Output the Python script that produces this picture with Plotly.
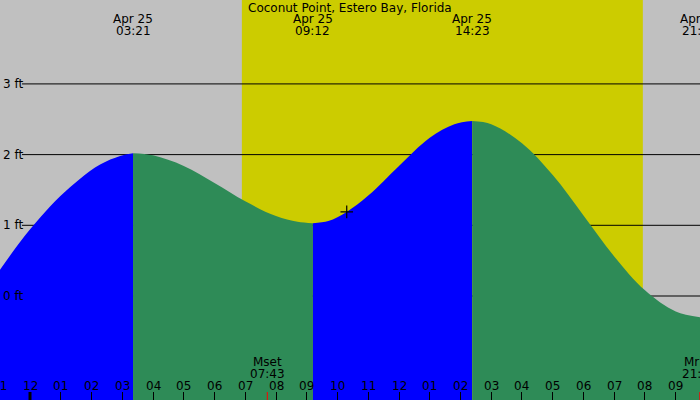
import plotly.graph_objects as go

# ---------------- data (hours after midnight Apr 25, feet) ----------------
rise1_t = [-0.976, -0.33, 0.33, 0.98, 1.63, 2.28, 2.93, 3.35]
rise1_v = [0.37, 0.76, 1.11, 1.41, 1.66, 1.86, 1.98, 2.02]
fall1_t = [3.35, 4.0, 5.0, 6.0, 7.0, 8.0, 8.7, 9.2]
fall1_v = [2.02, 1.99, 1.84, 1.60, 1.34, 1.13, 1.05, 1.03]
rise2_t = [9.2, 9.7, 10.3, 11.0, 12.0, 13.0, 13.8, 14.383]
rise2_v = [1.03, 1.06, 1.19, 1.42, 1.84, 2.24, 2.43, 2.475]
fall2_t = [14.383, 15.0, 16.0, 17.0, 18.0, 19.0, 20.0, 21.0, 21.79]
fall2_v = [2.475, 2.43, 2.16, 1.71, 1.14, 0.56, 0.08, -0.22, -0.30]

event_times = [3.35, 9.2, 14.383, 21.783]
event_dates = ["Apr 25", "Apr 25", "Apr 25", "Apr 25"]
event_labels = ["03:21", "09:12", "14:23", "21:47"]

sunrise, sunset = 6.89, 19.93
moon_times = [7.717, 21.783]
moon_names = ["Mset", "Mrise"]
moon_labels = ["07:43", "21:47"]

now_time, now_level = 10.3, 1.19

tick_hours = list(range(-1, 22))
tick_labels = ["11", "12", "01", "02", "03", "04", "05", "06", "07", "08", "09", "10",
               "11", "12", "01", "02", "03", "04", "05", "06", "07", "08", "09"]

grid_levels = [0, 1, 2, 3]
grid_labels = ["0 ft", "1 ft", "2 ft", "3 ft"]

title = "Coconut Point, Estero Bay, Florida"

# ---------------- layout constants ----------------
W, H = 700, 400
X_RANGE = [-0.976, 21.789]
Y_RANGE = [-1.471, 4.187]
PX_PER_H = W / (X_RANGE[1] - X_RANGE[0])
FONT = "DejaVu Sans"
FS = 12
BLUE = "#0000ff"
GREEN = "#2e8b57"
GRAY = "#c0c0c0"
YELLOW = "#cccc00"

fig = go.Figure()

segments = [(rise1_t, rise1_v, BLUE), (fall1_t, fall1_v, GREEN),
            (rise2_t, rise2_v, BLUE), (fall2_t, fall2_v, GREEN)]
for t, v, col in segments:
    fig.add_trace(go.Scatter(x=[t[0], t[-1]], y=[Y_RANGE[0], Y_RANGE[0]], mode="lines",
                             line=dict(width=0), hoverinfo="skip", showlegend=False))
    fig.add_trace(go.Scatter(x=t, y=v, mode="lines", line=dict(width=0, shape="spline", color=col),
                             fill="tonexty", fillcolor=col, hoverinfo="skip", showlegend=False))

fig.add_trace(go.Scatter(x=[now_time], y=[now_level], mode="markers",
                         marker=dict(symbol="cross-thin", size=9, line=dict(width=1.2, color="black")),
                         hoverinfo="skip", showlegend=False))

shapes = [dict(type="rect", xref="x", yref="paper", x0=sunrise, x1=sunset, y0=0, y1=1,
               fillcolor=YELLOW, line=dict(width=0), layer="below")]
for g in grid_levels:
    shapes.append(dict(type="line", xref="paper", yref="y", x0=22 / W, x1=1, y0=g, y1=g,
                       line=dict(color="black", width=1), layer="below"))
# midnight tick (bold)
shapes.append(dict(type="line", xref="x", yref="paper", x0=0, x1=0, y0=0, y1=8 / H,
                   line=dict(color="black", width=3), layer="above"))
# moon ticks
for mt in moon_times:
    shapes.append(dict(type="line", xref="x", yref="paper", x0=mt, x1=mt, y0=0, y1=8 / H,
                       line=dict(color="red", width=1), layer="above"))

annotations = []


def add_text(x, py, text):
    xc = min(max(x, X_RANGE[0]), X_RANGE[1])
    annotations.append(dict(x=xc, xshift=(x - xc) * PX_PER_H, xref="x", yref="paper",
                            y=1 - py / H, yanchor="middle", xanchor="center", text=text,
                            showarrow=False, font=dict(family=FONT, size=FS, color="black")))


for t, d, lab in zip(event_times, event_dates, event_labels):
    add_text(t, 19.5, d)
    add_text(t, 31.5, lab)
for t, n, lab in zip(moon_times, moon_names, moon_labels):
    add_text(t, 361.5, n)
    add_text(t, 373.5, lab)
for h, lab in zip(tick_hours, tick_labels):
    add_text(h, 385.5, lab)

for g, lab in zip(grid_levels, grid_labels):
    annotations.append(dict(x=0, xref="paper", xanchor="left", xshift=1, y=g, yref="y",
                            yanchor="middle", text=lab, showarrow=False,
                            font=dict(family=FONT, size=FS, color="black")))

annotations.append(dict(x=0.5, xref="paper", y=1 - 7.5 / H, yref="paper", xanchor="center",
                        yanchor="middle", text=title, showarrow=False,
                        font=dict(family=FONT, size=FS, color="black")))

fig.update_layout(
    width=W, height=H, margin=dict(l=0, r=0, t=0, b=0),
    plot_bgcolor=GRAY, paper_bgcolor=GRAY,
    xaxis=dict(range=X_RANGE, showgrid=False, zeroline=False, showline=False,
               tickmode="array", tickvals=tick_hours, ticks="inside", ticklen=8,
               tickwidth=1, tickcolor="black", showticklabels=False, fixedrange=True),
    yaxis=dict(range=Y_RANGE, showgrid=False, zeroline=False, showline=False,
               showticklabels=False, ticks="", fixedrange=True),
    shapes=shapes, annotations=annotations, showlegend=False,
)

fig.write_html("out.html", config={"displayModeBar": False})
